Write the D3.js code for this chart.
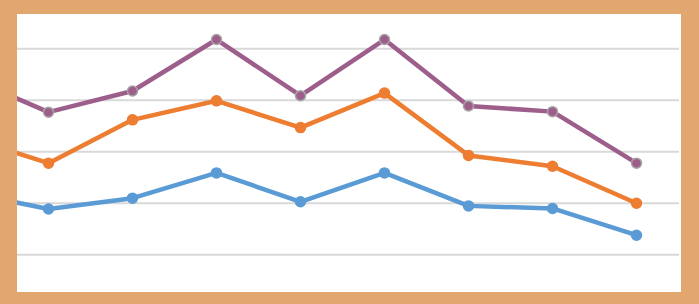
<!DOCTYPE html>
<html><head><meta charset="utf-8">
<script src="https://cdn.jsdelivr.net/npm/d3@7"></script>
<style>html,body{margin:0;padding:0;background:#E1A76F;}svg{display:block;}</style>
</head><body>
<script>
const categories = ["P0","P1","P2","P3","P4","P5","P6","P7","P8"];
const purpleValues = [44.8, 37.7, 41.8, 51.8, 40.9, 51.8, 38.9, 37.8, 27.8];
const orangeValues = [33.0, 27.8, 36.2, 39.9, 34.7, 41.4, 29.3, 27.2, 20.0];
const blueValues   = [22.2, 18.9, 21.0, 25.9, 20.3, 25.9, 19.5, 19.0, 13.8];
const gridTicks = [10, 20, 30, 40, 50];

const W = 699, H = 304;
const inner = {x: 17, y: 14, w: 664, h: 278};
const svg = d3.select("body").append("svg").attr("width", W).attr("height", H);
svg.append("rect").attr("width", W).attr("height", H).attr("fill", "#E1A76F");
svg.append("rect").attr("x", inner.x).attr("y", inner.y).attr("width", inner.w).attr("height", inner.h).attr("fill", "#ffffff");

svg.append("clipPath").attr("id", "clip").append("rect")
  .attr("x", inner.x).attr("y", inner.y).attr("width", inner.w).attr("height", inner.h);

const x = d3.scalePoint().domain(categories).range([-35.5, 636.5]);
const y = d3.scaleLinear().domain([0, 60]).range([306.3, -2.7]);

const g = svg.append("g").attr("clip-path", "url(#clip)");

g.selectAll("line.grid").data(gridTicks).enter().append("line")
  .attr("class", "grid")
  .attr("x1", inner.x).attr("x2", 679)
  .attr("y1", d => y(d)).attr("y2", d => y(d))
  .attr("stroke", "#D9D9D9").attr("stroke-width", 2);

const series = [
  {values: blueValues, color: "#5B9BD5", stroke: "#5B9BD5"},
  {values: orangeValues, color: "#ED7D31", stroke: "#ED7D31"},
  {values: purpleValues, color: "#9E5E8C", stroke: "#A5A5A5"}
];

const line = d3.line().x((d, i) => x(categories[i])).y(d => y(d));

series.forEach(s => {
  g.append("path").datum(s.values)
    .attr("d", line).attr("fill", "none")
    .attr("stroke", s.color).attr("stroke-width", 4.5)
    .attr("stroke-linejoin", "round").attr("stroke-linecap", "round");
});
series.forEach(s => {
  g.selectAll(null).data(s.values).enter().append("circle")
    .attr("cx", (d, i) => x(categories[i])).attr("cy", d => y(d))
    .attr("r", 5)
    .attr("fill", s.color).attr("stroke", s.stroke).attr("stroke-width", 1.5);
});
</script>
</body></html>
